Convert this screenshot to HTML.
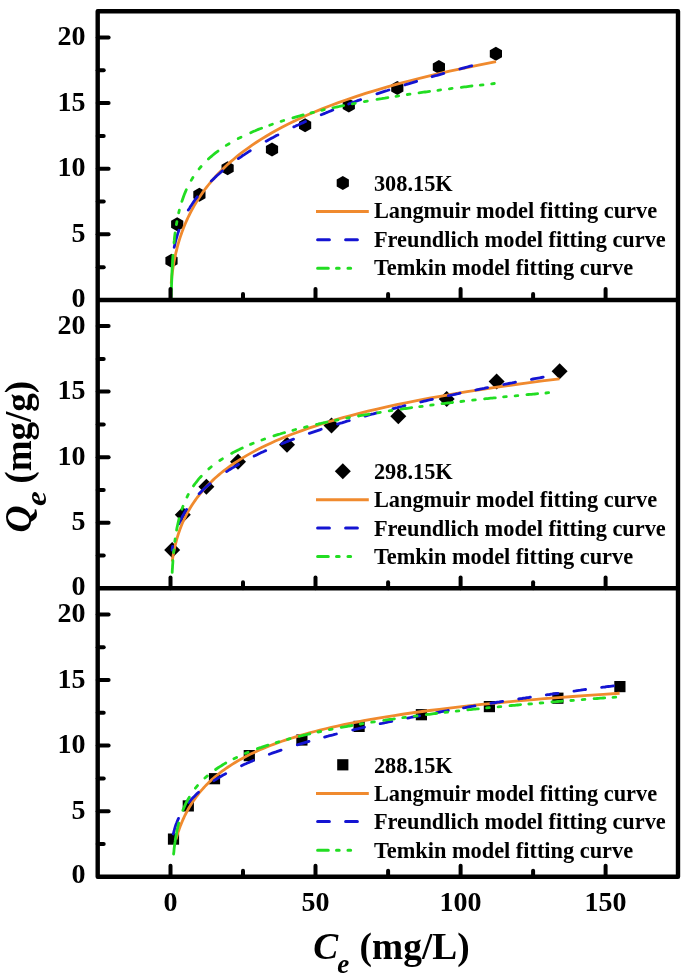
<!DOCTYPE html>
<html><head><meta charset="utf-8"><title>Adsorption isotherms</title>
<style>
html,body{margin:0;padding:0;background:#fff}
svg{display:block}
text{font-family:"Liberation Serif","DejaVu Serif",serif;font-weight:bold;fill:#000}
.tk text{font-size:28px}
.lg text{font-size:22.35px}
.axx text{font-size:37.4px}
.axy text{font-size:37.4px}
</style></head><body>
<svg width="685" height="979" viewBox="0 0 685 979">
<rect width="685" height="979" fill="#fff"/>
<g><g fill="#000"><polygon points="171.5,253.8 177.6,257.3 177.6,264.3 171.5,267.8 165.4,264.3 165.4,257.3"/><polygon points="177.2,217.2 183.3,220.7 183.3,227.7 177.2,231.2 171.1,227.7 171.1,220.7"/><polygon points="199.4,187.7 205.5,191.2 205.5,198.2 199.4,201.7 193.3,198.2 193.3,191.2"/><polygon points="227.6,161.2 233.7,164.7 233.7,171.7 227.6,175.2 221.5,171.7 221.5,164.7"/><polygon points="272.0,142.4 278.1,145.9 278.1,152.9 272.0,156.4 265.9,152.9 265.9,145.9"/><polygon points="305.1,118.3 311.2,121.8 311.2,128.8 305.1,132.3 299.0,128.8 299.0,121.8"/><polygon points="348.8,98.6 354.9,102.1 354.9,109.1 348.8,112.6 342.7,109.1 342.7,102.1"/><polygon points="397.3,81.0 403.4,84.5 403.4,91.5 397.3,95.0 391.2,91.5 391.2,84.5"/><polygon points="438.9,59.9 445.0,63.4 445.0,70.4 438.9,73.9 432.8,70.4 432.8,63.4"/><polygon points="495.9,46.8 502.0,50.3 502.0,57.3 495.9,60.8 489.8,57.3 489.8,50.3"/></g>
<path d="M171.20,283.60 L171.23,283.15 L171.27,282.68 L171.31,282.21 L171.35,281.72 L171.40,281.21 L171.45,280.70 L171.50,280.17 L171.55,279.63 L171.60,279.07 L171.66,278.50 L171.72,277.91 L171.79,277.31 L171.86,276.69 L171.93,276.06 L172.00,275.41 L172.08,274.74 L172.16,274.06 L172.25,273.36 L172.34,272.64 L172.44,271.91 L172.54,271.16 L172.65,270.38 L172.76,269.59 L172.88,268.78 L173.01,267.95 L173.14,267.10 L173.28,266.22 L173.42,265.33 L173.58,264.41 L173.74,263.47 L173.91,262.51 L174.09,261.53 L174.28,260.53 L174.47,259.49 L174.68,258.44 L174.90,257.36 L175.13,256.26 L175.38,255.13 L175.63,253.97 L175.90,252.79 L176.19,251.58 L176.49,250.35 L176.80,249.09 L177.13,247.79 L177.48,246.48 L177.85,245.13 L178.23,243.75 L178.64,242.34 L179.07,240.91 L179.52,239.44 L179.99,237.94 L180.49,236.42 L181.02,234.86 L181.57,233.26 L182.15,231.64 L182.76,229.99 L183.41,228.30 L184.09,226.58 L184.80,224.82 L185.55,223.04 L186.35,221.21 L187.18,219.36 L188.05,217.47 L188.98,215.55 L189.95,213.59 L190.97,211.60 L192.05,209.57 L193.18,207.51 L194.37,205.42 L195.63,203.29 L196.95,201.12 L198.34,198.93 L199.80,196.69 L201.34,194.42 L202.96,192.12 L204.67,189.79 L206.46,187.42 L208.35,185.01 L210.34,182.57 L212.44,180.10 L214.64,177.60 L216.96,175.06 L219.41,172.50 L221.98,169.90 L224.68,167.27 L227.53,164.60 L230.53,161.91 L233.68,159.19 L237.00,156.44 L240.50,153.66 L244.18,150.86 L248.05,148.02 L252.13,145.16 L256.42,142.28 L260.93,139.37 L265.69,136.44 L270.69,133.48 L275.96,130.50 L281.50,127.51 L287.34,124.49 L293.48,121.45 L299.94,118.40 L306.75,115.33 L313.91,112.24 L321.44,109.14 L329.38,106.02 L337.73,102.89 L346.52,99.76 L355.77,96.61 L365.51,93.45 L375.76,90.29 L386.55,87.12 L397.91,83.94 L409.86,80.77 L422.44,77.58 L435.68,74.40 L449.62,71.22 L464.29,68.04 L479.74,64.86 L495.99,61.69" fill="none" stroke="#F08A2E" stroke-width="2.8"/>
<path d="M174.2,247.3 L174.7,245.1 L175.2,242.9 L175.7,240.7 L176.3,238.6 L176.9,236.5 L177.5,234.4 L178.2,232.4 L178.9,230.3 M188.3,210.1 L189.4,208.4 L190.5,206.6 L191.6,204.9 L192.7,203.2 L193.8,201.6 L194.9,200.0 L196.1,198.4 L197.3,196.8 M211.3,181.0 L212.7,179.7 L214.1,178.4 L215.4,177.1 L216.8,175.8 L218.3,174.5 L219.7,173.3 L221.1,172.0 L222.5,170.8 M238.4,158.6 L239.9,157.6 L241.4,156.6 L242.8,155.5 L244.3,154.6 L245.8,153.6 L247.3,152.6 L248.8,151.6 L250.3,150.7 M266.1,141.2 L267.6,140.4 L269.1,139.6 L270.5,138.8 L272.0,138.0 L273.5,137.2 L274.9,136.4 L276.4,135.6 L277.9,134.9 M293.8,126.9 L295.3,126.3 L296.7,125.6 L298.2,124.9 L299.6,124.2 L301.1,123.5 L302.6,122.9 L304.0,122.2 L305.5,121.5 M321.2,114.8 L322.6,114.2 L324.1,113.6 L325.6,113.0 L327.0,112.4 L328.5,111.8 L329.9,111.2 L331.4,110.6 L332.8,110.0 M348.6,104.0 L350.1,103.4 L351.6,102.9 L353.1,102.3 L354.6,101.8 L356.1,101.2 L357.6,100.7 L359.1,100.2 L360.6,99.6 M376.9,93.9 L378.4,93.4 L379.9,92.9 L381.4,92.4 L382.9,91.9 L384.4,91.4 L385.9,90.9 L387.4,90.5 L388.9,90.0 M405.0,84.9 L406.6,84.3 L408.3,83.8 L410.0,83.3 L411.6,82.8 L413.3,82.3 L415.0,81.8 L416.6,81.3 M432.1,76.7 L433.8,76.2 L435.5,75.7 L437.1,75.3 L438.8,74.8 L440.5,74.3 L442.1,73.9 L443.8,73.4 M459.8,69.0 L461.3,68.6 L462.8,68.2 L464.3,67.8 L465.8,67.4 L467.2,67.0 L468.7,66.6 L470.2,66.2 L471.7,65.8" fill="none" stroke="#1414D2" stroke-width="2.8" stroke-linecap="round"/>
<path d="M171.2,299.7 L171.2,297.3 L171.3,295.0 L171.3,292.7 L171.4,290.4 L171.5,288.0 L171.5,285.7 L171.6,283.4 L171.7,281.0 L171.8,278.7 L171.8,276.4 L171.9,274.1 L172.0,271.7 L172.1,269.4 L172.3,267.1 L172.4,264.8 L172.5,262.5 L172.6,260.1 L172.8,257.8 L172.9,255.5 M174.0,242.8 L174.3,240.4 L174.5,237.9 L174.8,235.4 L175.1,233.0 M176.4,224.5 L176.9,221.7 M178.7,212.9 L179.3,210.2 M181.9,201.4 L182.7,199.0 L183.5,196.7 L184.4,194.3 L185.3,192.1 L186.3,189.8 M191.2,180.4 L192.9,177.5 M199.1,168.9 L201.1,166.5 M208.4,159.1 L209.7,157.8 L211.1,156.6 L212.4,155.5 L213.8,154.3 L215.2,153.2 L216.6,152.1 L218.0,151.1 M226.3,145.4 L229.1,143.7 M238.2,138.6 L241.0,137.2 M250.7,132.7 L252.2,132.0 L253.8,131.3 L255.3,130.7 L256.9,130.0 L258.4,129.4 L260.0,128.8 L261.6,128.2 M269.7,125.2 L272.4,124.2 M281.1,121.3 L283.7,120.5 M292.9,117.8 L294.6,117.3 L296.3,116.8 L298.0,116.3 L299.7,115.9 L301.5,115.4 L303.2,114.9 M311.0,112.9 L313.5,112.3 M321.7,110.3 L324.3,109.7 M332.9,107.8 L334.4,107.5 L336.0,107.2 L337.5,106.8 L339.0,106.5 L340.5,106.2 L342.1,105.9 L343.6,105.6 M352.3,103.8 L355.2,103.3 M364.4,101.6 L367.3,101.1 M377.0,99.4 L378.5,99.1 L380.1,98.8 L381.7,98.6 L383.2,98.3 L384.8,98.1 L386.3,97.8 L387.9,97.6 M396.0,96.3 L398.7,95.9 M407.3,94.5 L410.0,94.2 M419.0,92.8 L420.5,92.6 L422.0,92.4 L423.5,92.2 L425.1,92.0 L426.6,91.8 L428.1,91.6 L429.6,91.4 M437.9,90.3 L440.6,89.9 M449.4,88.8 L452.1,88.4 M461.3,87.3 L462.8,87.1 L464.4,86.9 L465.9,86.8 L467.4,86.6 L468.9,86.4 L470.5,86.2 L472.0,86.0 M480.3,85.1 L483.0,84.8 M491.7,83.8 L494.3,83.5" fill="none" stroke="#22DD22" stroke-width="2.8" stroke-linecap="round"/>
<g fill="#000"><polygon points="342.8,175.9 348.9,179.4 348.9,186.4 342.8,189.9 336.7,186.4 336.7,179.4"/></g>
<line x1="316" x2="368.8" y1="211.5" y2="211.5" stroke="#F08A2E" stroke-width="3"/>
<line x1="317.6" x2="357.6" y1="239.7" y2="239.7" stroke="#1414D2" stroke-width="3" stroke-linecap="round" stroke-dasharray="11.8 16.2"/>
<line x1="317.6" x2="350.65" y1="268.3" y2="268.3" stroke="#22DD22" stroke-width="3" stroke-linecap="round" stroke-dasharray="10.7 8.2 2.7 8.75 2.7 30"/>
<g class="lg"><text x="373.9" y="190.8">308.15K</text><text x="373.9" y="218.0">Langmuir model fitting curve</text><text x="373.9" y="246.8">Freundlich model fitting curve</text><text x="373.9" y="274.7">Temkin model fitting curve</text></g>
<g stroke="#000" stroke-width="4" stroke-linecap="round"><line x1="97.7" x2="103.7" y1="267.2" y2="267.2"/><line x1="97.7" x2="108.60000000000001" y1="234.3" y2="234.3"/><line x1="97.7" x2="103.7" y1="201.5" y2="201.5"/><line x1="97.7" x2="108.60000000000001" y1="168.7" y2="168.7"/><line x1="97.7" x2="103.7" y1="135.9" y2="135.9"/><line x1="97.7" x2="108.60000000000001" y1="103.0" y2="103.0"/><line x1="97.7" x2="103.7" y1="70.2" y2="70.2"/><line x1="97.7" x2="108.60000000000001" y1="37.4" y2="37.4"/><line x1="170.5" x2="170.5" y1="300.0" y2="289.1"/><line x1="243.0" x2="243.0" y1="300.0" y2="294.0"/><line x1="315.5" x2="315.5" y1="300.0" y2="289.1"/><line x1="388.1" x2="388.1" y1="300.0" y2="294.0"/><line x1="460.6" x2="460.6" y1="300.0" y2="289.1"/><line x1="533.1" x2="533.1" y1="300.0" y2="294.0"/><line x1="605.6" x2="605.6" y1="300.0" y2="289.1"/></g>
<g class="tk"><text x="85.6" y="306.6" text-anchor="end">0</text><text x="85.6" y="241.9" text-anchor="end">5</text><text x="85.6" y="176.3" text-anchor="end">10</text><text x="85.6" y="110.6" text-anchor="end">15</text><text x="85.6" y="45.0" text-anchor="end">20</text></g></g>
<g><g fill="#000"><polygon points="172.2,542.1 180.2,550.1 172.2,558.1 164.2,550.1"/><polygon points="182.8,506.8 190.8,514.8 182.8,522.8 174.8,514.8"/><polygon points="206.4,478.8 214.4,486.8 206.4,494.8 198.4,486.8"/><polygon points="238.0,453.7 246.0,461.7 238.0,469.7 230.0,461.7"/><polygon points="287.0,436.8 295.0,444.8 287.0,452.8 279.0,444.8"/><polygon points="331.5,417.4 339.5,425.4 331.5,433.4 323.5,425.4"/><polygon points="398.3,408.3 406.3,416.3 398.3,424.3 390.3,416.3"/><polygon points="446.7,390.9 454.7,398.9 446.7,406.9 438.7,398.9"/><polygon points="496.6,373.4 504.6,381.4 496.6,389.4 488.6,381.4"/><polygon points="559.6,363.2 567.6,371.2 559.6,379.2 551.6,371.2"/></g>
<path d="M172.21,561.54 L172.29,560.95 L172.37,560.35 L172.46,559.74 L172.55,559.11 L172.65,558.47 L172.75,557.82 L172.85,557.16 L172.96,556.48 L173.07,555.79 L173.19,555.09 L173.31,554.37 L173.44,553.64 L173.58,552.90 L173.72,552.14 L173.87,551.36 L174.03,550.57 L174.19,549.77 L174.36,548.95 L174.54,548.12 L174.73,547.27 L174.92,546.41 L175.13,545.53 L175.34,544.63 L175.57,543.72 L175.80,542.79 L176.05,541.84 L176.30,540.88 L176.57,539.90 L176.85,538.90 L177.15,537.89 L177.45,536.86 L177.77,535.81 L178.11,534.74 L178.46,533.65 L178.83,532.55 L179.22,531.43 L179.62,530.29 L180.04,529.13 L180.48,527.96 L180.95,526.76 L181.43,525.55 L181.93,524.31 L182.46,523.06 L183.02,521.79 L183.60,520.50 L184.20,519.19 L184.83,517.86 L185.50,516.51 L186.19,515.14 L186.92,513.75 L187.68,512.34 L188.47,510.92 L189.30,509.47 L190.17,508.00 L191.08,506.52 L192.03,505.01 L193.03,503.48 L194.07,501.94 L195.16,500.37 L196.30,498.79 L197.50,497.19 L198.75,495.56 L200.05,493.92 L201.42,492.26 L202.85,490.58 L204.35,488.89 L205.91,487.17 L207.55,485.43 L209.26,483.68 L211.06,481.91 L212.93,480.12 L214.90,478.32 L216.95,476.49 L219.10,474.65 L221.35,472.79 L223.70,470.92 L226.16,469.03 L228.73,467.13 L231.43,465.20 L234.25,463.27 L237.19,461.32 L240.28,459.35 L243.51,457.37 L246.88,455.38 L250.42,453.37 L254.11,451.36 L257.98,449.32 L262.03,447.28 L266.26,445.23 L270.69,443.16 L275.33,441.09 L280.18,439.00 L285.25,436.91 L290.56,434.80 L296.11,432.69 L301.92,430.57 L308.00,428.44 L314.36,426.31 L321.01,424.17 L327.98,422.02 L335.26,419.87 L342.88,417.71 L350.85,415.55 L359.20,413.39 L367.93,411.23 L377.06,409.06 L386.61,406.89 L396.61,404.72 L407.07,402.55 L418.01,400.38 L429.46,398.21 L441.44,396.04 L453.97,393.88 L467.08,391.71 L480.80,389.55 L495.16,387.40 L510.17,385.24 L525.89,383.10 L542.32,380.96 L559.52,378.82" fill="none" stroke="#F08A2E" stroke-width="2.8"/>
<path d="M172.1,550.0 L172.6,546.5 M179.0,523.7 L179.8,521.8 L180.7,519.9 L181.6,518.0 L182.5,516.2 L183.5,514.5 L184.5,512.7 L185.5,511.0 L186.6,509.4 M199.1,493.7 L200.5,492.4 L201.8,491.1 L203.2,489.8 L204.5,488.5 L205.9,487.3 L207.3,486.0 L208.7,484.8 L210.1,483.7 M226.6,471.6 L228.1,470.7 L229.5,469.7 L231.0,468.8 L232.5,467.9 L234.0,467.0 L235.5,466.1 L237.0,465.2 L238.5,464.3 M254.1,456.1 L255.5,455.4 L257.0,454.7 L258.4,454.0 L259.9,453.3 L261.3,452.6 L262.8,451.9 L264.3,451.2 L265.7,450.6 M281.7,443.7 L283.1,443.1 L284.6,442.6 L286.1,442.0 L287.6,441.4 L289.0,440.8 L290.5,440.2 L292.0,439.7 L293.5,439.1 M309.3,433.3 L310.8,432.8 L312.3,432.3 L313.8,431.8 L315.3,431.3 L316.8,430.8 L318.3,430.3 L319.8,429.8 L321.2,429.3 M337.5,424.1 L339.0,423.7 L340.4,423.2 L341.9,422.8 L343.4,422.3 L344.9,421.9 L346.3,421.4 L347.8,421.0 L349.3,420.6 M365.0,416.1 L366.7,415.6 L368.3,415.2 L370.0,414.7 L371.7,414.2 L373.4,413.8 L375.1,413.3 L376.8,412.9 M393.0,408.7 L394.5,408.3 L396.0,407.9 L397.5,407.6 L398.9,407.2 L400.4,406.8 L401.9,406.5 L403.4,406.1 L404.9,405.7 M420.7,402.0 L422.4,401.6 L424.0,401.2 L425.7,400.8 L427.4,400.4 L429.1,400.0 L430.8,399.6 L432.4,399.3 M448.4,395.7 L450.0,395.4 L451.7,395.0 L453.4,394.7 L455.1,394.3 L456.7,393.9 L458.4,393.6 L460.1,393.2 M475.8,390.0 L477.5,389.6 L479.1,389.3 L480.8,389.0 L482.5,388.6 L484.2,388.3 L485.9,387.9 L487.6,387.6 M503.7,384.5 L505.4,384.1 L507.1,383.8 L508.8,383.5 L510.5,383.2 L512.1,382.9 L513.8,382.5 L515.5,382.2 M531.4,379.3 L533.1,379.0 L534.8,378.7 L536.5,378.4 L538.2,378.1 L539.8,377.8 L541.5,377.5 L543.2,377.2" fill="none" stroke="#1414D2" stroke-width="2.8" stroke-linecap="round"/>
<path d="M172.2,572.4 L172.3,570.0 L172.5,567.7 L172.6,565.3 L172.8,563.0 L172.9,560.6 M173.6,552.5 L173.9,549.9 M174.8,541.4 L175.2,538.8 M176.6,530.1 L177.0,527.8 L177.5,525.5 L178.0,523.2 L178.5,521.0 L179.1,518.7 M181.9,509.2 L183.0,506.3 M187.0,497.1 L188.3,494.4 M193.5,485.9 L194.7,484.2 L196.0,482.5 L197.3,480.9 L198.6,479.2 L199.9,477.7 L201.3,476.2 M208.8,468.9 L211.3,466.8 M219.8,460.5 L222.4,458.8 M231.6,453.4 L233.1,452.6 L234.7,451.8 L236.2,451.0 L237.7,450.2 L239.2,449.5 L240.7,448.7 L242.3,448.0 M250.5,444.4 L253.2,443.3 M261.9,440.0 L264.6,439.0 M273.9,435.9 L275.4,435.4 L276.9,434.9 L278.5,434.4 L280.0,434.0 L281.5,433.5 L283.1,433.0 L284.6,432.6 M292.9,430.3 L295.6,429.5 M304.5,427.3 L307.2,426.6 M316.5,424.4 L318.0,424.1 L319.5,423.7 L321.0,423.4 L322.6,423.0 L324.1,422.7 L325.6,422.4 L327.1,422.0 M335.4,420.3 L338.0,419.8 M346.7,418.1 L349.4,417.6 M358.5,416.0 L360.1,415.7 L361.6,415.4 L363.1,415.2 L364.6,414.9 L366.2,414.6 L367.7,414.4 L369.2,414.1 M377.6,412.8 L380.3,412.3 M389.2,410.9 L391.9,410.5 M401.2,409.2 L402.7,408.9 L404.2,408.7 L405.7,408.5 L407.2,408.3 L408.7,408.1 L410.2,407.9 L411.7,407.7 M419.7,406.6 L422.2,406.3 M430.7,405.2 L433.2,404.8 M442.0,403.7 L443.5,403.6 L445.0,403.4 L446.5,403.2 L448.0,403.0 L449.5,402.8 L451.1,402.7 L452.6,402.5 M460.9,401.5 L463.7,401.2 M472.6,400.2 L475.3,399.9 M484.6,398.9 L486.1,398.7 L487.7,398.6 L489.2,398.4 L490.7,398.2 L492.3,398.1 L493.8,397.9 L495.3,397.8 M503.6,396.9 L506.3,396.7 M515.1,395.8 L517.8,395.6 M526.9,394.7 L528.5,394.5 L530.0,394.4 L531.5,394.3 L533.0,394.1 L534.6,394.0 L536.1,393.8 L537.6,393.7 M545.9,393.0 L548.6,392.7" fill="none" stroke="#22DD22" stroke-width="2.8" stroke-linecap="round"/>
<g fill="#000"><polygon points="342.8,463.2 350.8,471.2 342.8,479.2 334.8,471.2"/></g>
<line x1="316" x2="368.8" y1="499.8" y2="499.8" stroke="#F08A2E" stroke-width="3"/>
<line x1="317.6" x2="357.6" y1="528.0" y2="528.0" stroke="#1414D2" stroke-width="3" stroke-linecap="round" stroke-dasharray="11.8 16.2"/>
<line x1="317.6" x2="350.65" y1="556.6" y2="556.6" stroke="#22DD22" stroke-width="3" stroke-linecap="round" stroke-dasharray="10.7 8.2 2.7 8.75 2.7 30"/>
<g class="lg"><text x="373.9" y="479.3">298.15K</text><text x="373.9" y="507.2">Langmuir model fitting curve</text><text x="373.9" y="535.6">Freundlich model fitting curve</text><text x="373.9" y="564.0">Temkin model fitting curve</text></g>
<g stroke="#000" stroke-width="4" stroke-linecap="round"><line x1="97.7" x2="103.7" y1="555.5" y2="555.5"/><line x1="97.7" x2="108.60000000000001" y1="522.8" y2="522.8"/><line x1="97.7" x2="103.7" y1="490.0" y2="490.0"/><line x1="97.7" x2="108.60000000000001" y1="457.2" y2="457.2"/><line x1="97.7" x2="103.7" y1="424.4" y2="424.4"/><line x1="97.7" x2="108.60000000000001" y1="391.6" y2="391.6"/><line x1="97.7" x2="103.7" y1="358.9" y2="358.9"/><line x1="97.7" x2="108.60000000000001" y1="326.1" y2="326.1"/><line x1="170.5" x2="170.5" y1="588.3" y2="577.4"/><line x1="243.0" x2="243.0" y1="588.3" y2="582.3"/><line x1="315.5" x2="315.5" y1="588.3" y2="577.4"/><line x1="388.1" x2="388.1" y1="588.3" y2="582.3"/><line x1="460.6" x2="460.6" y1="588.3" y2="577.4"/><line x1="533.1" x2="533.1" y1="588.3" y2="582.3"/><line x1="605.6" x2="605.6" y1="588.3" y2="577.4"/></g>
<g class="tk"><text x="85.6" y="594.9" text-anchor="end">0</text><text x="85.6" y="530.4" text-anchor="end">5</text><text x="85.6" y="464.8" text-anchor="end">10</text><text x="85.6" y="399.2" text-anchor="end">15</text><text x="85.6" y="333.7" text-anchor="end">20</text></g></g>
<g><g fill="#000"><rect x="167.9" y="833.5" width="11.2" height="11.2"/><rect x="182.7" y="800.3" width="11.2" height="11.2"/><rect x="208.9" y="773.1" width="11.2" height="11.2"/><rect x="243.7" y="750.0" width="11.2" height="11.2"/><rect x="296.3" y="734.4" width="11.2" height="11.2"/><rect x="353.5" y="720.8" width="11.2" height="11.2"/><rect x="415.8" y="709.1" width="11.2" height="11.2"/><rect x="483.8" y="701.0" width="11.2" height="11.2"/><rect x="552.3" y="692.6" width="11.2" height="11.2"/><rect x="614.3" y="681.0" width="11.2" height="11.2"/></g>
<path d="M176.01,839.40 L176.22,838.65 L176.43,837.89 L176.65,837.11 L176.88,836.32 L177.12,835.51 L177.37,834.70 L177.62,833.87 L177.89,833.03 L178.17,832.18 L178.45,831.31 L178.75,830.43 L179.06,829.54 L179.38,828.63 L179.71,827.71 L180.05,826.78 L180.41,825.84 L180.78,824.88 L181.16,823.91 L181.56,822.93 L181.98,821.93 L182.40,820.92 L182.85,819.90 L183.31,818.86 L183.79,817.81 L184.29,816.75 L184.80,815.68 L185.33,814.59 L185.89,813.49 L186.46,812.38 L187.06,811.26 L187.68,810.12 L188.32,808.97 L188.99,807.81 L189.68,806.64 L190.39,805.45 L191.14,804.26 L191.91,803.05 L192.71,801.83 L193.53,800.60 L194.40,799.36 L195.29,798.11 L196.21,796.85 L197.17,795.57 L198.17,794.29 L199.20,793.00 L200.28,791.70 L201.39,790.39 L202.54,789.07 L203.74,787.74 L204.98,786.40 L206.27,785.06 L207.60,783.71 L208.99,782.35 L210.43,780.98 L211.92,779.61 L213.46,778.22 L215.07,776.84 L216.73,775.45 L218.46,774.05 L220.25,772.65 L222.11,771.24 L224.04,769.83 L226.04,768.41 L228.11,766.99 L230.26,765.57 L232.50,764.14 L234.81,762.72 L237.21,761.29 L239.70,759.85 L242.29,758.42 L244.97,756.99 L247.75,755.55 L250.64,754.12 L253.63,752.69 L256.74,751.25 L259.96,749.82 L263.30,748.39 L266.76,746.96 L270.36,745.54 L274.09,744.12 L277.96,742.70 L281.97,741.28 L286.13,739.87 L290.45,738.46 L294.93,737.06 L299.58,735.66 L304.40,734.27 L309.40,732.88 L314.59,731.50 L319.97,730.13 L325.56,728.76 L331.35,727.40 L337.36,726.04 L343.59,724.70 L350.05,723.36 L356.76,722.03 L363.71,720.71 L370.93,719.40 L378.42,718.10 L386.18,716.81 L394.24,715.52 L402.60,714.25 L411.26,712.99 L420.26,711.74 L429.58,710.50 L439.26,709.27 L449.30,708.05 L459.71,706.84 L470.51,705.64 L481.72,704.46 L493.34,703.28 L505.40,702.12 L517.91,700.97 L530.89,699.83 L544.35,698.71 L558.31,697.60 L572.79,696.50 L587.82,695.41 L603.41,694.33 L619.57,693.27" fill="none" stroke="#F08A2E" stroke-width="2.8"/>
<path d="M173.3,834.0 L173.9,831.6 L174.5,829.3 L175.2,827.0 L175.9,824.8 L176.8,822.6 L177.6,820.5 L178.5,818.4 M188.8,802.4 L190.1,800.8 L191.5,799.3 L192.9,797.8 L194.3,796.4 L195.7,795.0 L197.1,793.6 L198.6,792.3 M214.0,780.7 L215.4,779.7 L216.9,778.8 L218.3,777.9 L219.8,777.0 L221.2,776.2 L222.7,775.3 L224.2,774.5 L225.7,773.7 M241.5,765.7 L243.0,765.0 L244.5,764.3 L245.9,763.7 L247.4,763.0 L248.9,762.4 L250.4,761.7 L251.9,761.1 L253.3,760.5 M269.3,754.3 L270.7,753.7 L272.2,753.2 L273.7,752.7 L275.2,752.2 L276.7,751.6 L278.2,751.1 L279.6,750.6 L281.1,750.1 M297.3,744.9 L298.9,744.4 L300.6,743.9 L302.3,743.4 L304.0,742.9 L305.6,742.4 L307.3,741.9 L309.0,741.4 M324.6,737.1 L326.2,736.6 L327.9,736.2 L329.6,735.7 L331.3,735.3 L333.0,734.9 L334.7,734.4 L336.4,734.0 M352.7,730.0 L354.4,729.6 L356.1,729.2 L357.8,728.8 L359.4,728.4 L361.1,728.0 L362.8,727.6 L364.5,727.2 M380.2,723.7 L381.9,723.4 L383.5,723.0 L385.2,722.7 L386.8,722.3 L388.5,722.0 L390.2,721.6 L391.8,721.3 M407.5,718.1 L409.0,717.8 L410.5,717.5 L412.0,717.2 L413.5,716.9 L415.0,716.6 L416.5,716.3 L418.0,716.0 L419.5,715.8 M436.4,712.6 L438.1,712.3 L439.8,712.0 L441.5,711.7 L443.2,711.4 L444.9,711.1 L446.6,710.8 L448.3,710.5 M463.5,707.8 L465.1,707.6 L466.8,707.3 L468.4,707.0 L470.1,706.7 L471.7,706.4 L473.4,706.2 L475.0,705.9 M490.9,703.3 L492.6,703.0 L494.3,702.8 L496.0,702.5 L497.6,702.2 L499.3,702.0 L501.0,701.7 L502.7,701.4 M518.7,699.0 L520.3,698.7 L522.0,698.5 L523.7,698.2 L525.4,698.0 L527.1,697.7 L528.8,697.5 L530.4,697.2 M546.3,694.9 L547.9,694.7 L549.6,694.5 L551.3,694.2 L553.0,694.0 L554.7,693.7 L556.3,693.5 L558.0,693.3 M573.9,691.1 L575.5,690.9 L577.2,690.6 L578.9,690.4 L580.6,690.2 L582.3,689.9 L584.0,689.7 L585.6,689.5 M601.6,687.4 L603.3,687.2 L605.0,687.0 L606.7,686.7 L608.4,686.5 L610.1,686.3 L611.8,686.1 L613.5,685.9" fill="none" stroke="#1414D2" stroke-width="2.8" stroke-linecap="round"/>
<path d="M173.6,854.0 L173.9,851.6 L174.1,849.1 L174.4,846.7 L174.7,844.3 L175.1,841.9 L175.4,839.5 L175.8,837.1 L176.2,834.7 L176.7,832.3 L177.1,830.0 L177.7,827.6 L178.2,825.3 L178.8,823.0 M182.9,810.3 L183.7,808.3 L184.5,806.4 L185.4,804.4 L186.3,802.5 L187.3,800.7 L188.3,798.9 L189.3,797.1 M195.4,788.2 L197.5,785.6 M204.9,778.0 L207.3,775.9 M215.6,769.5 L217.0,768.5 L218.5,767.5 L219.9,766.6 L221.4,765.7 L222.8,764.8 L224.3,763.9 L225.8,763.0 M233.9,758.7 L236.6,757.4 M245.4,753.4 L248.1,752.3 M257.4,748.7 L258.9,748.2 L260.4,747.7 L262.0,747.1 L263.5,746.6 L265.0,746.1 L266.5,745.6 L268.1,745.1 M276.2,742.6 L278.8,741.8 M287.5,739.3 L290.1,738.6 M299.2,736.3 L300.7,736.0 L302.2,735.6 L303.8,735.2 L305.3,734.9 L306.8,734.5 L308.3,734.2 L309.8,733.8 M318.0,732.0 L320.7,731.5 M329.4,729.7 L332.1,729.1 M341.2,727.4 L342.7,727.1 L344.2,726.9 L345.8,726.6 L347.3,726.3 L348.8,726.0 L350.3,725.8 L351.9,725.5 M360.2,724.1 L362.9,723.6 M371.7,722.2 L374.4,721.8 M383.7,720.4 L385.2,720.2 L386.7,719.9 L388.3,719.7 L389.8,719.5 L391.4,719.3 L392.9,719.1 L394.4,718.8 M402.8,717.7 L405.5,717.3 M414.3,716.1 L417.1,715.8 M426.3,714.6 L427.8,714.4 L429.3,714.3 L430.9,714.1 L432.4,713.9 L433.9,713.7 L435.4,713.5 L436.9,713.3 M445.0,712.4 L447.6,712.1 M456.2,711.1 L458.8,710.9 M467.8,709.9 L469.3,709.7 L470.8,709.6 L472.3,709.4 L473.8,709.2 L475.3,709.1 L476.8,708.9 L478.3,708.8 M486.6,707.9 L489.3,707.7 M498.1,706.8 L500.8,706.6 M510.0,705.7 L511.5,705.5 L513.0,705.4 L514.6,705.3 L516.1,705.1 L517.6,705.0 L519.1,704.9 L520.6,704.7 M528.8,704.0 L531.5,703.8 M540.1,703.0 L542.8,702.8 M551.9,702.0 L553.4,701.9 L554.9,701.8 L556.4,701.6 L557.9,701.5 L559.5,701.4 L561.0,701.3 L562.5,701.1 M570.8,700.5 L573.4,700.3 M582.2,699.6 L584.9,699.4 M594.1,698.7 L595.6,698.6 L597.1,698.5 L598.6,698.4 L600.2,698.2 L601.7,698.1 L603.2,698.0 L604.7,697.9 M613.0,697.3 L615.7,697.1" fill="none" stroke="#22DD22" stroke-width="2.8" stroke-linecap="round"/>
<g fill="#000"><rect x="337.2" y="759.2" width="11.2" height="11.2"/></g>
<line x1="316" x2="368.8" y1="793.4" y2="793.4" stroke="#F08A2E" stroke-width="3"/>
<line x1="317.6" x2="357.6" y1="821.6" y2="821.6" stroke="#1414D2" stroke-width="3" stroke-linecap="round" stroke-dasharray="11.8 16.2"/>
<line x1="317.6" x2="350.65" y1="850.2" y2="850.2" stroke="#22DD22" stroke-width="3" stroke-linecap="round" stroke-dasharray="10.7 8.2 2.7 8.75 2.7 30"/>
<g class="lg"><text x="373.9" y="773.1">288.15K</text><text x="373.9" y="800.9">Langmuir model fitting curve</text><text x="373.9" y="829.1">Freundlich model fitting curve</text><text x="373.9" y="858.0">Temkin model fitting curve</text></g>
<g stroke="#000" stroke-width="4" stroke-linecap="round"><line x1="97.7" x2="103.7" y1="843.9" y2="843.9"/><line x1="97.7" x2="108.60000000000001" y1="811.2" y2="811.2"/><line x1="97.7" x2="103.7" y1="778.4" y2="778.4"/><line x1="97.7" x2="108.60000000000001" y1="745.6" y2="745.6"/><line x1="97.7" x2="103.7" y1="712.8" y2="712.8"/><line x1="97.7" x2="108.60000000000001" y1="680.1" y2="680.1"/><line x1="97.7" x2="103.7" y1="647.3" y2="647.3"/><line x1="97.7" x2="108.60000000000001" y1="614.5" y2="614.5"/><line x1="170.5" x2="170.5" y1="876.7" y2="865.8000000000001"/><line x1="243.0" x2="243.0" y1="876.7" y2="870.7"/><line x1="315.5" x2="315.5" y1="876.7" y2="865.8000000000001"/><line x1="388.1" x2="388.1" y1="876.7" y2="870.7"/><line x1="460.6" x2="460.6" y1="876.7" y2="865.8000000000001"/><line x1="533.1" x2="533.1" y1="876.7" y2="870.7"/><line x1="605.6" x2="605.6" y1="876.7" y2="865.8000000000001"/></g>
<g class="tk"><text x="85.6" y="883.3" text-anchor="end">0</text><text x="85.6" y="818.8" text-anchor="end">5</text><text x="85.6" y="753.2" text-anchor="end">10</text><text x="85.6" y="687.7" text-anchor="end">15</text><text x="85.6" y="622.1" text-anchor="end">20</text></g></g>
<g stroke="#000" stroke-width="4.4" fill="none" stroke-linejoin="round"><rect x="97.7" y="11.2" width="580.3" height="865.5"/><line x1="97.7" x2="678.0" y1="300.0" y2="300.0"/><line x1="97.7" x2="678.0" y1="588.3" y2="588.3"/></g>
<g class="tk"><text x="170.5" y="910.8" text-anchor="middle">0</text><text x="315.5" y="910.8" text-anchor="middle">50</text><text x="460.6" y="910.8" text-anchor="middle">100</text><text x="605.6" y="910.8" text-anchor="middle">150</text></g>
<g class="axx"><text x="313.3" y="959" font-style="italic">C</text><text x="337.2" y="973.3" font-style="italic" style="font-size:27px">e</text><text x="359.6" y="959">(mg/L)</text></g>
<g class="axy"><text transform="translate(30.6,532.4) rotate(-90)" font-style="italic">Q</text><text transform="translate(45.8,506) rotate(-90) scale(1.1,1)" font-style="italic" style="font-size:30px">e</text><text transform="translate(30.6,483.6) rotate(-90)" style="font-size:37px">(mg/g)</text></g>
</svg>
</body></html>
